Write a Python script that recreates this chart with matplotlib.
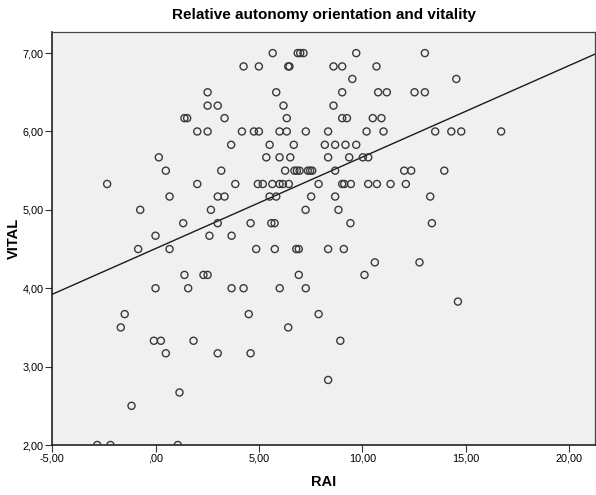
import numpy as np
import matplotlib
matplotlib.use('Agg')
import matplotlib.pyplot as plt
from matplotlib.ticker import FuncFormatter

plt.rcParams['font.family'] = ['Liberation Sans', 'DejaVu Sans']

# VITAL level -> RAI scores
vital_levels = [7.00, 6.83, 6.67, 6.50, 6.33, 6.17, 6.00, 5.83, 5.67, 5.50,
                5.33, 5.17, 5.00, 4.83, 4.67, 4.50, 4.33, 4.17, 4.00, 3.83,
                3.67, 3.50, 3.33, 3.17, 2.83, 2.67, 2.50, 2.00]
rai_by_level = [
    [5.67, 6.88, 7.00, 7.16, 9.71, 13.03],
    [4.26, 5.00, 6.42, 6.48, 8.61, 9.03, 10.69],
    [9.52, 14.55],
    [2.52, 5.84, 9.03, 10.77, 11.19, 12.53, 13.03],
    [2.52, 3.01, 6.19, 8.61],
    [1.40, 1.53, 3.34, 6.35, 9.03, 9.26, 10.51, 10.93],
    [2.02, 2.52, 4.18, 4.76, 5.00, 6.00, 6.35, 7.27, 8.35, 10.21, 11.03,
     13.53, 14.31, 14.79, 16.72],
    [3.66, 5.52, 6.69, 8.19, 8.69, 9.19, 9.71],
    [0.16, 5.36, 6.00, 6.52, 8.35, 9.37, 10.03, 10.29],
    [0.50, 3.18, 6.27, 6.72, 6.84, 6.97, 7.37, 7.48, 7.58, 8.69, 12.03,
     12.37, 13.97],
    [-2.34, 2.02, 3.86, 4.95, 5.19, 5.65, 6.00, 6.16, 6.45, 7.89, 9.03,
     9.13, 9.45, 10.29, 10.71, 11.37, 12.11],
    [0.68, 3.01, 3.34, 5.52, 5.84, 7.53, 8.69, 13.29],
    [-0.74, 2.68, 7.26, 8.85],
    [1.34, 3.01, 4.60, 5.60, 5.76, 9.43, 13.37],
    [0.00, 2.61, 3.68],
    [-0.84, 0.68, 4.87, 5.77, 6.81, 6.93, 8.35, 9.11],
    [10.61, 12.77],
    [1.40, 2.32, 2.52, 6.93, 10.11],
    [0.00, 1.58, 3.68, 4.26, 6.01, 7.27],
    [14.63],
    [-1.49, 4.51, 7.89],
    [-1.68, 6.42],
    [-0.08, 0.26, 1.84, 8.94],
    [0.50, 3.01, 4.60],
    [8.35],
    [1.16],
    [-1.16],
    [-2.82, -2.18, 1.08],
]

rai = np.concatenate([np.array(r) for r in rai_by_level])
vital = np.concatenate([[v] * len(r) for v, r in zip(vital_levels, rai_by_level)])

xticks = [-5, 0, 5, 10, 15, 20]
yticks = [2, 3, 4, 5, 6, 7]


def spss_fmt(v, pos):
    s = '%.2f' % v
    s = s.replace('.', ',')
    if s.startswith('0,'):
        s = s[1:]
    return s


fig = plt.figure(figsize=(5.96, 4.95), dpi=100)
ax = fig.add_axes([0.0875, 0.101, 0.9115, 0.8345])
ax.set_facecolor('#f0f0f0')

ax.scatter(rai, vital, s=26, facecolors='none', edgecolors='#3a3a3a',
           linewidths=1.0, zorder=3)

# linear fit line across the full x range
b, a = np.polyfit(rai, vital, 1)
xl = np.array([-5, 21.3])
ax.plot(xl, a + b * xl, color='#1a1a1a', lw=1.0, zorder=2)

ax.set_xlim(-5, 21.28)
ax.set_ylim(2, 7.27)
ax.set_xticks(xticks)
ax.set_yticks(yticks)
ax.xaxis.set_major_formatter(FuncFormatter(spss_fmt))
ax.yaxis.set_major_formatter(FuncFormatter(spss_fmt))
ax.tick_params(labelsize=7.8, length=5, width=0.8, color='#333333', pad=1)

for side in ['left', 'bottom']:
    ax.spines[side].set_color('#222222')
    ax.spines[side].set_linewidth(1.2)
for side in ['top', 'right']:
    ax.spines[side].set_color('#444444')
    ax.spines[side].set_linewidth(0.9)

ax.set_xlabel('RAI', fontsize=10.5, fontweight='bold')
ax.set_ylabel('VITAL', fontsize=10.5, fontweight='bold')
ax.xaxis.set_label_coords(0.5, -0.073)
ax.yaxis.set_label_coords(-0.058, 0.5)
ax.set_title('Relative autonomy orientation and vitality', fontsize=11,
             fontweight='bold', pad=9)

fig.savefig('out.png', dpi=100)
